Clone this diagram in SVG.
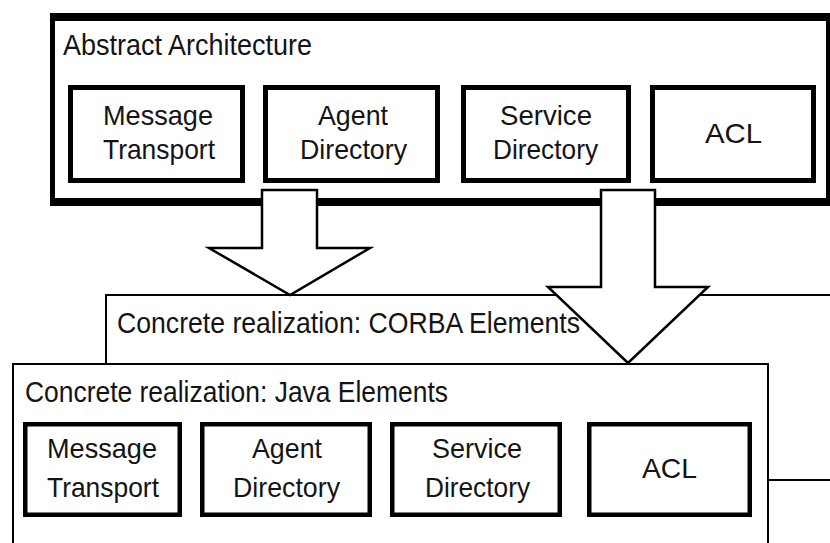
<svg xmlns="http://www.w3.org/2000/svg" width="830" height="543" viewBox="0 0 830 543">
  <style>
    text { font-family: "Liberation Sans", Arial, sans-serif; fill: #141414; }
    .title { font-size: 29px; }
    .lbl { font-size: 28px; }
    .thin { fill: #fff; stroke: #000; stroke-width: 2; }
    .inner { fill: #fff; stroke: #000; stroke-width: 5; }
    .innerj { fill: #fff; stroke: #000; stroke-width: 4.5; }
    .arrow { fill: #fff; stroke: #000; stroke-width: 2.5; stroke-linejoin: miter; }
  </style>
  <rect width="830" height="543" fill="#fff"/>

  <g id="corba">
    <rect class="thin" x="106" y="295" width="760" height="185"/>
    <text class="title" x="117" y="333" textLength="463" lengthAdjust="spacingAndGlyphs">Concrete realization: CORBA Elements</text>
  </g>

  <g id="java">
    <rect class="thin" x="13" y="364" width="755" height="200"/>
    <text class="title" x="25" y="402" textLength="423" lengthAdjust="spacingAndGlyphs">Concrete realization: Java Elements</text>
    <g id="java-message-transport">
      <rect class="innerj" x="25.25" y="424.25" width="154.5" height="90.5"/>
      <text class="lbl" x="47" y="458" textLength="110" lengthAdjust="spacingAndGlyphs">Message</text>
      <text class="lbl" x="47" y="497" textLength="112" lengthAdjust="spacingAndGlyphs">Transport</text>
    </g>
    <g id="java-agent-directory">
      <rect class="innerj" x="202.25" y="424.25" width="167.5" height="90.5"/>
      <text class="lbl" x="252" y="458" textLength="70" lengthAdjust="spacingAndGlyphs">Agent</text>
      <text class="lbl" x="233" y="497" textLength="107" lengthAdjust="spacingAndGlyphs">Directory</text>
    </g>
    <g id="java-service-directory">
      <rect class="innerj" x="392.25" y="424.25" width="167.5" height="90.5"/>
      <text class="lbl" x="432" y="458" textLength="90" lengthAdjust="spacingAndGlyphs">Service</text>
      <text class="lbl" x="425" y="497" textLength="105" lengthAdjust="spacingAndGlyphs">Directory</text>
    </g>
    <g id="java-acl">
      <rect class="innerj" x="589.25" y="424.25" width="160.5" height="90.5"/>
      <text class="lbl" x="642" y="478" textLength="55" lengthAdjust="spacingAndGlyphs">ACL</text>
    </g>
  </g>

  <g id="abstract">
    <rect x="50" y="13" width="780" height="193" fill="#000"/>
    <rect x="55" y="21" width="771" height="177" fill="#fff"/>
    <text x="63" y="55" font-size="30" textLength="249" lengthAdjust="spacingAndGlyphs">Abstract Architecture</text>
    <g id="abs-message-transport">
      <rect class="inner" x="70.5" y="87.5" width="172" height="93"/>
      <text class="lbl" x="103" y="125" textLength="110" lengthAdjust="spacingAndGlyphs">Message</text>
      <text class="lbl" x="103" y="159" textLength="112" lengthAdjust="spacingAndGlyphs">Transport</text>
    </g>
    <g id="abs-agent-directory">
      <rect class="inner" x="265.5" y="87.5" width="172" height="93"/>
      <text class="lbl" x="318" y="125" textLength="70" lengthAdjust="spacingAndGlyphs">Agent</text>
      <text class="lbl" x="300" y="159" textLength="107" lengthAdjust="spacingAndGlyphs">Directory</text>
    </g>
    <g id="abs-service-directory">
      <rect class="inner" x="463.5" y="87.5" width="165" height="93"/>
      <text class="lbl" x="500" y="125" textLength="92" lengthAdjust="spacingAndGlyphs">Service</text>
      <text class="lbl" x="493" y="159" textLength="105" lengthAdjust="spacingAndGlyphs">Directory</text>
    </g>
    <g id="abs-acl">
      <rect class="inner" x="652.5" y="87.5" width="161" height="93"/>
      <text class="lbl" x="705" y="143" textLength="57" lengthAdjust="spacingAndGlyphs">ACL</text>
    </g>
  </g>

  <g id="connectors">
    <polygon class="arrow" points="262,190 317,190 317,248 370,248 290,295 209,248 262,248"/>
    <polygon class="arrow" points="601,190 655,190 655,287 708,287 628,363 548,287 601,287"/>
  </g>
</svg>
